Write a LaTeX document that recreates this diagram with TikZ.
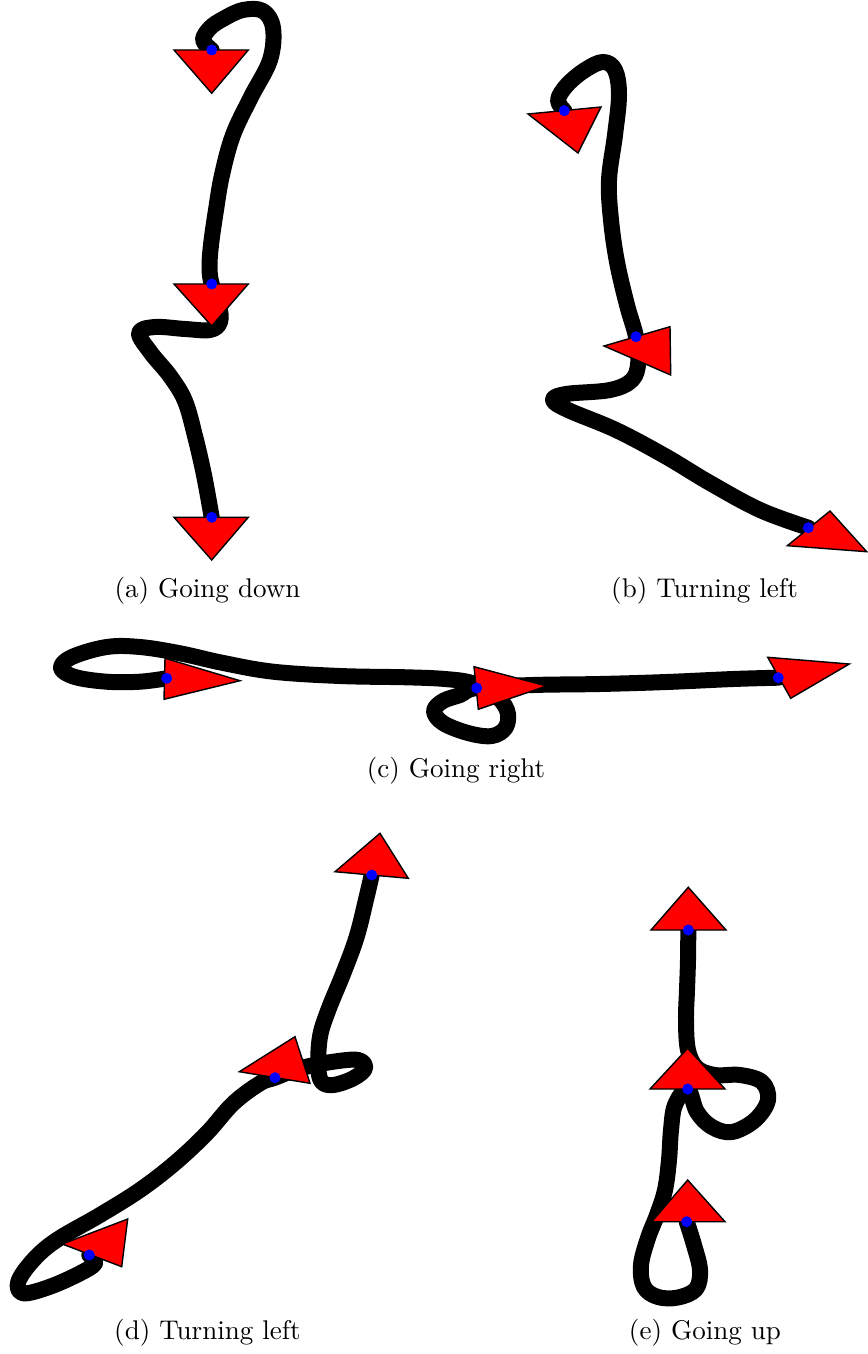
\documentclass[tikz,border=0pt]{standalone}
\usepackage{tikz}

\begin{document}
\begin{tikzpicture}[
    x=0.02cm, y=-0.02cm,
    stroke/.style={line width=0.32cm, line cap=round, line join=round, black},
    tri/.style={fill=red, draw=black, line width=0.8pt, line join=miter},
    dot/.style={fill=blue},
    caption/.style={font=\fontsize{10}{12}\selectfont, scale=1.54, inner sep=0pt, anchor=base}
]
\useasboundingbox (0,0) rectangle (867,1354);

% (a) going down
\coordinate (a1) at (211.7,50);
\coordinate (a2) at (211.7,284);
\coordinate (a3) at (211.7,517.3);
\draw[stroke] plot[smooth, tension=0.6] coordinates {(a1) (203,40) (210,28) (223,19) (243,10) (263,11) (273,28) (270,60) (251,97) (233,135) (222,175) (216,210) (211,245) (209.5,268) (a2) (219,305) (220,322) (210,330) (185,329) (155,327) (139,333) (151,353) (170,376) (185,401) (195,436) (204,475) (a3)};
\filldraw[tri] (174,50) -- (248.3,50) -- (211.7,93.3) -- cycle;
\filldraw[tri] (174,284) -- (248.3,284) -- (211.7,326) -- cycle;
\filldraw[tri] (174,517.3) -- (248.3,517.3) -- (211.7,560) -- cycle;
\foreach \p in {a1,a2,a3} \fill[dot] (\p) circle (5.5);

% (b) turning left
\coordinate (b1) at (564.3,110.7);
\coordinate (b2) at (636,336.7);
\coordinate (b3) at (808.3,527.7);
\draw[stroke] plot[smooth, tension=0.6] coordinates {(b1) (558,100) (567,85) (585,70) (603,62) (615,70) (619,95) (615,135) (609,180) (611,220) (617,262) (627,305) (b2) (638.3,362) (632,380) (610,390) (566,394) (553,400) (568,410) (616,430) (665,456) (710,483) (760,510) (b3)};
\filldraw[tri] (528,114) -- (601,107) -- (578,153) -- cycle;
\filldraw[tri] (604,346) -- (670,326.7) -- (670.7,375) -- cycle;
\filldraw[tri] (787.3,545.7) -- (830,511) -- (866.7,551.7) -- cycle;
\foreach \p in {b1,b2,b3} \fill[dot] (\p) circle (5.5);

% (c) going right
\coordinate (c1) at (166.7,678.3);
\coordinate (c2) at (476.7,688);
\coordinate (c3) at (778.3,677.7);
\draw[stroke] plot[smooth, tension=0.6] coordinates {(c1) (140,681.7) (106.7,681.7) (75,677) (61,668) (72,657) (106.7,647) (140,647) (180,653.3) (223.3,663) (273.3,671.7) (340,676) (406.7,677.3) (445,679) (472,683) (494,694) (507,710) (506,727) (492,736) (468,733) (443,723) (434,711) (443,701) (460,695) (c2) (533.3,685) (600,684) (666.7,682) (733.3,679) (c3)};
\filldraw[tri] (165,658.3) -- (164,699.3) -- (240,680.7) -- cycle;
\filldraw[tri] (474,666.7) -- (478.3,709.3) -- (546.7,686) -- cycle;
\filldraw[tri] (767.7,657.3) -- (790.7,698.3) -- (849.3,664) -- cycle;
\foreach \p in {c1,c2,c3} \fill[dot] (\p) circle (5.5);

% (d) turning left
\coordinate (d1) at (89.3,1255);
\coordinate (d2) at (275,1077.7);
\coordinate (d3) at (371.7,875);
\draw[stroke] plot[smooth, tension=0.6] coordinates {(d1) (95,1263.3) (80,1273.3) (50,1286.7) (23.3,1293.3) (18.3,1281.7) (33.3,1260) (56.7,1240) (100,1215) (140,1190) (175,1163) (206.7,1133.3) (233.3,1103.3) (260,1083.3) (d2) (300,1068.3) (333.3,1061.7) (358.3,1060) (365,1068.3) (353.3,1078.3) (333.3,1085) (321.7,1081.7) (318.3,1066.7) (320,1036.7) (328.3,1010) (343.3,973.3) (356.7,936.7) (366.7,896.7) (d3)};
\filldraw[tri] (62.3,1244) -- (121.7,1266.7) -- (127.7,1219) -- cycle;
\filldraw[tri] (239.3,1071.7) -- (310,1083.3) -- (295,1036.7) -- cycle;
\filldraw[tri] (335,871.7) -- (408.3,878.3) -- (380,833.3) -- cycle;
\foreach \p in {d1,d2,d3} \fill[dot] (\p) circle (5.5);

% (e) going up
\coordinate (e1) at (686.7,1221.7);
\coordinate (e2) at (687.7,1089);
\coordinate (e3) at (688.3,930);
\draw[stroke] plot[smooth, tension=0.6] coordinates {(e1) (694,1245) (700,1270) (696,1289) (678,1297.5) (658,1297) (644,1287) (641,1265) (648,1238) (657,1215) (665,1190) (669,1160) (671,1130) (675,1105) (e2) (697,1112) (712,1127) (732,1132) (755,1120) (768,1100) (762,1082) (740,1075) (715,1075) (697,1068) (688,1050) (686,1020) (687,990) (688,960) (e3)};
\filldraw[tri] (651.7,1221.7) -- (725,1221.7) -- (687.7,1180) -- cycle;
\filldraw[tri] (650,1089) -- (725,1089) -- (687.7,1048.3) -- cycle;
\filldraw[tri] (651,930) -- (726,930) -- (688.3,887.3) -- cycle;
\foreach \p in {e1,e2,e3} \fill[dot] (\p) circle (5.5);

\node[caption] (capa) at (207.5,597) {(a) Going down};
\node[caption] (capb) at (704.5,597) {(b) Turning left};
\node[caption] (capc) at (456,777.5) {(c) Going right};
\node[caption] (capd) at (207.5,1339) {(d) Turning left};
\node[caption] (cape) at (705,1339) {(e) Going up};
\end{tikzpicture}
\end{document}
